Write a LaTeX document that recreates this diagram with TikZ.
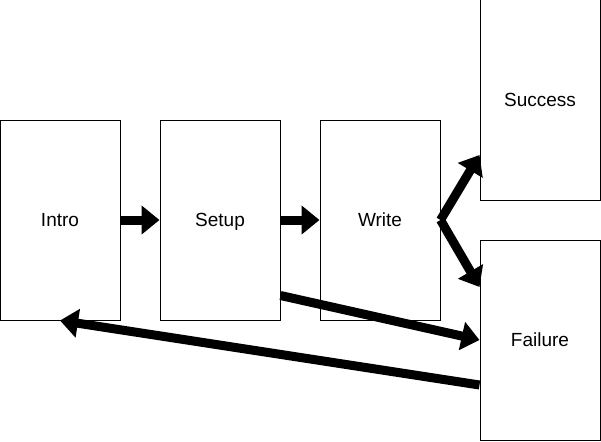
\documentclass[tikz,border=0pt]{standalone}
\usepackage{fontspec}
\setmainfont{Liberation Sans}
\usetikzlibrary{arrows.meta,positioning}
\tikzset{
  stage box/.style={rectangle,draw,line width=1pt,minimum width=120pt,minimum height=200pt,inner sep=0pt,
    text height=13.6pt,text depth=0pt,font=\fontsize{19}{23}\selectfont},
  stage edge/.style={-{Triangle[length=18pt,width=28pt]},line width=9pt},
}

\begin{document}
\begin{tikzpicture}[x=1pt,y=-1pt]
  \useasboundingbox (0,0) rectangle (601,441);
  \node[stage box] (intro) at (60,220) {Intro};
  \node[stage box] (setup) at (220,220) {Setup};
  \node[stage box] (write) at (380,220) {Write};
  \node[stage box] (success) at (540,100) {Success};
  \node[stage box] (failure) at (540,340) {Failure};
  \draw[stage edge] (intro.east) -- (setup.west);
  \draw[stage edge] (setup.east) -- (write.west);
  \draw[stage edge] (write.east) -- ([yshift=-55pt]success.west);
  \draw[stage edge] (write.east) -- ([yshift=53pt]failure.west);
  \draw[stage edge] ([yshift=25pt]setup.south east) -- (failure.west);
  \draw[stage edge] ([yshift=-45pt]failure.west) -- (intro.south);
\end{tikzpicture}
\end{document}
